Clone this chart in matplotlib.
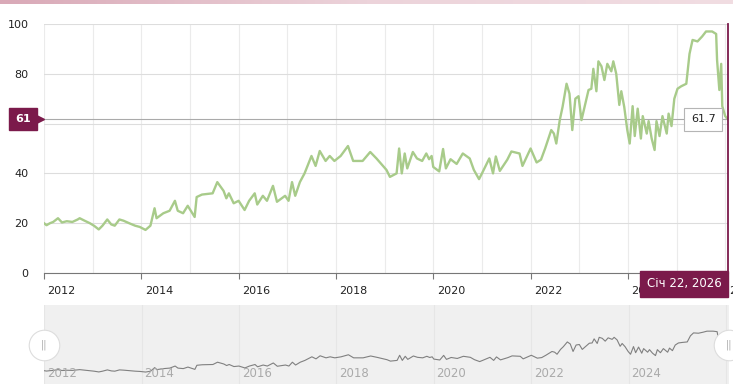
import matplotlib
matplotlib.use("Agg")
import matplotlib.pyplot as plt
import matplotlib.dates as mdates
import matplotlib.transforms as mtransforms
from matplotlib.colors import LinearSegmentedColormap
import numpy as np
import pandas as pd

# series (date, value)
dates = [
    "2012-01-01", "2012-01-20", "2012-02-15", "2012-03-10", "2012-04-15", "2012-05-15",
    "2012-06-20", "2012-08-01", "2012-09-10", "2012-09-25", "2012-11-01", "2012-12-10",
    "2013-01-10", "2013-02-15", "2013-03-15", "2013-04-20", "2013-05-20", "2013-06-15",
    "2013-07-20", "2013-08-20", "2013-10-01", "2013-11-15", "2013-12-20", "2014-02-01",
    "2014-03-10", "2014-04-10", "2014-04-25", "2014-06-15", "2014-08-01", "2014-09-10",
    "2014-10-01", "2014-11-10", "2014-12-15", "2015-02-05", "2015-02-20", "2015-04-01",
    "2015-06-20", "2015-07-25", "2015-09-10", "2015-10-01", "2015-10-20", "2015-11-25",
    "2016-01-01", "2016-02-15", "2016-03-20", "2016-05-01", "2016-05-20", "2016-07-01",
    "2016-08-01", "2016-09-15", "2016-10-15", "2016-12-15", "2017-01-10", "2017-02-05",
    "2017-03-01", "2017-04-05", "2017-05-10", "2017-07-01", "2017-08-01", "2017-09-01",
    "2017-10-15", "2017-11-15", "2017-12-20", "2018-02-05", "2018-04-01", "2018-05-10",
    "2018-07-20", "2018-09-15", "2018-11-01", "2019-01-15", "2019-02-10", "2019-04-01",
    "2019-04-20", "2019-05-10", "2019-06-01", "2019-06-20", "2019-08-01", "2019-09-01",
    "2019-10-10", "2019-11-10", "2019-12-01", "2019-12-20", "2020-01-01", "2020-02-15",
    "2020-03-15", "2020-04-05", "2020-05-10", "2020-06-25", "2020-08-10", "2020-10-01",
    "2020-11-01", "2020-12-10", "2021-01-01", "2021-02-25", "2021-03-25", "2021-04-15",
    "2021-05-15", "2021-07-10", "2021-08-10", "2021-10-10", "2021-11-01", "2022-01-01",
    "2022-02-15", "2022-03-20", "2022-04-20", "2022-06-05", "2022-06-25", "2022-07-13",
    "2022-08-08", "2022-08-29", "2022-09-28", "2022-10-20", "2022-11-10", "2022-12-03",
    "2022-12-27", "2023-01-18", "2023-02-10", "2023-03-12", "2023-04-02", "2023-04-17",
    "2023-05-10", "2023-05-25", "2023-06-17", "2023-07-09", "2023-07-31", "2023-08-30",
    "2023-09-14", "2023-10-06", "2023-10-29", "2023-11-13", "2023-12-05", "2023-12-28",
    "2024-01-15", "2024-02-06", "2024-02-22", "2024-03-15", "2024-04-08", "2024-04-22",
    "2024-05-22", "2024-06-05", "2024-06-28", "2024-07-20", "2024-08-03", "2024-08-26",
    "2024-09-17", "2024-10-19", "2024-11-02", "2024-11-24", "2024-12-15", "2025-01-08",
    "2025-02-05", "2025-03-15", "2025-04-08", "2025-05-01", "2025-06-07", "2025-07-12",
    "2025-08-10", "2025-09-25", "2025-10-25", "2025-11-01", "2025-11-18", "2025-12-02",
    "2025-12-10", "2026-01-01", "2026-01-22",
]
values = [
    20, 19.2, 20, 20.5, 22, 20.3,
    20.8, 20.5, 21.5, 22, 21, 20,
    19, 17.5, 19, 21.5, 19.5, 19,
    21.5, 21, 20, 19, 18.5, 17.3,
    19, 26, 22, 24, 25, 29,
    25, 24, 27, 22.5, 30.5, 31.5,
    32, 36.5, 33, 30, 32, 28,
    29, 25.3, 29, 32, 27.5, 31,
    29, 35, 28.6, 31, 29, 36.5,
    31, 36.5, 40, 47, 43, 49,
    45, 47, 45, 47, 51, 45,
    45, 48.6, 46, 41.4, 38.6, 40,
    50, 40, 48, 42, 48.6, 46,
    45, 48, 45.7, 47, 42.6, 40.8,
    49.8, 42, 45.7, 43.8, 48, 46,
    41.4, 37.7, 40, 46, 40, 46.8,
    41, 45.5, 48.8, 48, 43, 50,
    44.4, 45.5, 50, 57.4, 56, 52,
    61.4, 66.7, 76, 72, 57.4, 70,
    71, 61.4, 66.7, 73.5, 74, 82,
    73, 85, 83, 77.5, 84, 81,
    85, 80, 67.5, 73, 66.7, 57.4,
    52, 67, 55, 66, 54, 63,
    56, 61, 54, 49.4, 61, 55,
    63, 56, 64, 59, 70, 74,
    75, 76, 88, 93.6, 93, 95,
    97, 97, 96, 85.5, 73.5, 84,
    67, 63, 61.7,
]
year_ticks = list(range(2012, 2027, 2))
y_ticks = [0, 20, 40, 60, 80, 100]
date_label = "Січ 22, 2026"

purple = "#7b1a4b"
green = "#a8cb8a"

x = mdates.date2num(pd.to_datetime(dates))
last_x, last_y = x[-1], values[-1]
x0 = mdates.date2num(pd.Timestamp("2012-01-01"))

W, H = 733, 392
fig = plt.figure(figsize=(W / 100, H / 100), dpi=100)
fig.patch.set_facecolor("white")

# pink strip on top
bar = fig.add_axes([0, 1 - 4 / H, 1, 4 / H])
grad = np.linspace(0, 1, 256).reshape(1, -1)
cm = LinearSegmentedColormap.from_list("pk", ["#d9a9b7", "#ecd3da", "#f1dde2"])
bar.imshow(grad, aspect="auto", cmap=cm)
bar.axis("off")

# main chart
ax = fig.add_axes([44 / W, 1 - 273 / H, (728 - 44) / W, (273 - 24) / H])
ax.plot(x, values, color=green, lw=1.7, solid_joinstyle="round", zorder=3)
ax.set_xlim(x0, last_x)
ax.set_ylim(0, 100)

year_lines = mdates.date2num([pd.Timestamp(f"{y}-01-01") for y in range(2012, 2027)])
for yl in year_lines:
    ax.axvline(yl, color="#ebebeb", lw=0.8, zorder=0)
ax.set_yticks(y_ticks)
ax.yaxis.grid(True, color="#dddddd", lw=0.8)
ax.set_axisbelow(True)
for s in ["top", "right", "left"]:
    ax.spines[s].set_visible(False)
ax.spines["bottom"].set_color("#777777")
ax.tick_params(axis="y", length=0, pad=11, labelsize=8, labelcolor="#222222")
ax.set_xticks(mdates.date2num([pd.Timestamp(f"{y}-01-01") for y in year_ticks]))
ax.set_xticklabels([str(y) for y in year_ticks])
ax.tick_params(axis="x", length=4, color="#777777", pad=5, labelsize=8, labelcolor="#222222")
shift = mtransforms.ScaledTranslation(2.5 / 72, 0, fig.dpi_scale_trans)
for lab in ax.get_xticklabels():
    lab.set_ha("left")
    lab.set_transform(lab.get_transform() + shift)

# crosshairs
ax.axhline(last_y, color="#aaaaaa", lw=0.8, zorder=2)
ax.axvline(last_x, color=purple, lw=1.3, zorder=4, clip_on=False)

# left value flag
ax.annotate(f"{int(last_y)}", xy=(0, last_y), xycoords=("axes fraction", "data"),
            xytext=(-9.5, 0), textcoords="offset points", ha="right", va="center",
            fontsize=8, color="white", fontweight="bold",
            bbox=dict(boxstyle="square,pad=0.55", fc=purple, ec=purple),
            annotation_clip=False, zorder=6)
ax.plot([0], [last_y], marker=">", ms=6, color=purple, transform=mtransforms.blended_transform_factory(
    ax.transAxes, ax.transData) + mtransforms.ScaledTranslation(-3 / 72, 0, fig.dpi_scale_trans),
    clip_on=False, zorder=6)

# tooltip
ax.annotate(f"{last_y}", xy=(last_x, last_y), xytext=(-9, 0), textcoords="offset points",
            ha="right", va="center", fontsize=8, color="#222222",
            bbox=dict(boxstyle="square,pad=0.6", fc="white", ec="#b5b5b5", lw=0.8),
            zorder=7)

# date flag under the axis
fig.text(684 / W, 1 - 284 / H, date_label, ha="center", va="center", fontsize=8.5,
         color="white", zorder=10,
         bbox=dict(boxstyle="square,pad=0.55", fc=purple, ec=purple))

# navigator
nav = fig.add_axes([44 / W, 1 - 384 / H, (729 - 44) / W, (384 - 305) / H])
nav.set_facecolor("#f0f0f0")
nav.plot(x, values, color="#808080", lw=0.8)
nav.set_xlim(x0, last_x)
nav.set_ylim(-6, 148)
for yl in year_lines[::2]:
    nav.axvline(yl, color="#e6e6e6", lw=0.8, zorder=0)
nav.set_xticks([])
nav.set_yticks([])
for s in nav.spines.values():
    s.set_visible(False)
for y in year_ticks[:-1]:
    nav.annotate(str(y), xy=(mdates.date2num(pd.Timestamp(f"{y}-01-01")), 0),
                 xycoords=("data", "axes fraction"), xytext=(2, 3), textcoords="offset points",
                 ha="left", va="bottom", fontsize=8.5, color="#aaaaaa")
for hx in [0, 1]:
    nav.plot([hx], [0.5], marker="o", ms=22, mfc="white", mec="#dddddd", mew=0.8,
             transform=nav.transAxes, clip_on=False, zorder=8)
    nav.text(hx, 0.5, "||", transform=nav.transAxes, ha="center", va="center",
             fontsize=7, color="#aaaaaa", zorder=9)

fig.savefig("out.png", dpi=100, facecolor="white")
